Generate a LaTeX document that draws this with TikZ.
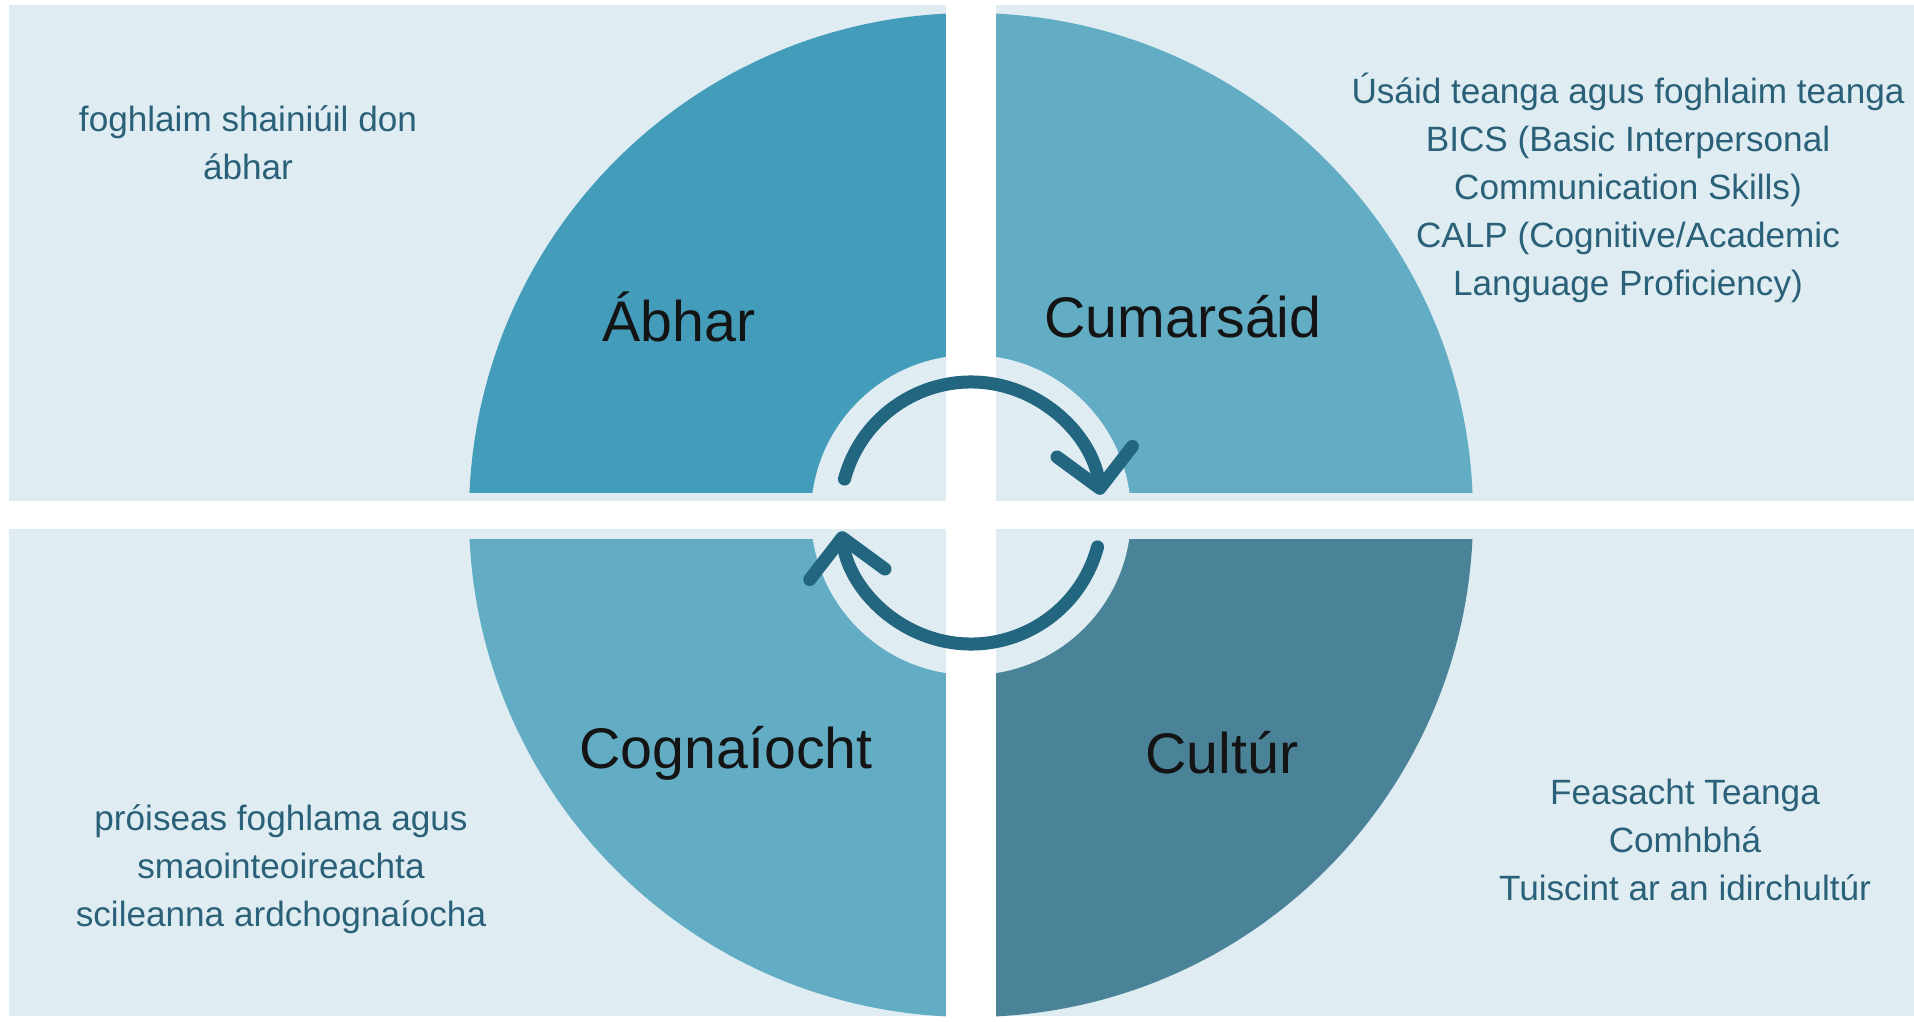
\documentclass[tikz,border=0pt]{standalone}
\usepackage{fontspec}
\setmainfont{Liberation Sans}
\usetikzlibrary{arrows.meta}
\definecolor{panelblue}{HTML}{DFEDF3}
\definecolor{abharblue}{HTML}{439CB9}
\definecolor{midblue}{HTML}{62ADC4}
\definecolor{cultblue}{HTML}{4A8398}
\definecolor{cycleblue}{HTML}{23667F}
\definecolor{noteblue}{HTML}{2B6178}

\begin{document}
\begin{tikzpicture}[
    panel/.style={fill=panelblue},
    bigtext/.style={font=\fontsize{16.3}{19}\selectfont, text=black!92},
    notetext/.style={font=\fontsize{10}{13.7}\selectfont, text=noteblue, align=center},
    cyclearrow/.style={line width=0.13cm, draw=cycleblue, line cap=round,
        -{Straight Barb[length=0.37cm, width=0.76cm, line cap=round, line join=round]}}
  ]
                \useasboundingbox (0,0) rectangle (19.140000,10.210000);
                \fill [white] (0,0) rectangle (19.140000,10.210000);%

                % Drawing the four panels
                \fill [panel] (0.090000,5.200000) rectangle (9.460000,10.160000);%
                \fill [panel] (9.960000,5.200000) rectangle (19.140000,10.160000);%
                \fill [panel] (0.090000,0.050000) rectangle (9.460000,4.920000);%
                \fill [panel] (9.960000,0.050000) rectangle (19.140000,4.920000);%

                % Drawing quarter Abhar
                \begin{scope}
                  \clip (0,5.290000) rectangle (9.470000,10.210000);
                  \fill [abharblue] (9.710000,5.060000) circle (5.020000);%
                \end{scope}

                % Drawing quarter Cumarsaid
                \begin{scope}
                  \clip (9.950000,5.290000) rectangle (19.140000,10.210000);
                  \fill [midblue] (9.710000,5.060000) circle (5.020000);%
                \end{scope}

                % Drawing quarter Cognaiocht
                \begin{scope}
                  \clip (0,0) rectangle (9.470000,4.820000);
                  \fill [midblue] (9.710000,5.060000) circle (5.020000);%
                \end{scope}

                % Drawing quarter Cultur
                \begin{scope}
                  \clip (9.950000,0) rectangle (19.140000,4.820000);
                  \fill [cultblue] (9.710000,5.060000) circle (5.020000);%
                \end{scope}

                % Drawing the inner disc
                \fill [panel] (9.710000,5.060000) circle (1.600000);%

                % Drawing the white cross
                \fill [white] (0,4.920000) rectangle (19.140000,5.200000);%
                \fill [white] (9.460000,0) rectangle (9.960000,10.210000);%

                % Drawing the cycle arrows
                \coordinate (hub) at (9.710000,5.080000);
                \draw [cyclearrow] (hub) ++(165:1.310000) arc [start angle=165, end angle=8, radius=1.310000];%
                \draw [cyclearrow] (hub) ++(-15:1.310000) arc [start angle=-15, end angle=-172, radius=1.310000];%

                % Marking the quarter titles
                \draw (6.790000,7.040000) node (abhar) [bigtext] {Ábhar};%
                \draw (11.830000,7.040000) node (cumarsaid) [bigtext] {Cumarsáid};%
                \draw (7.260000,2.680000) node (cognaiocht) [bigtext] {Cognaíocht};%
                \draw (12.220000,2.680000) node (cultur) [bigtext] {Cultúr};%

                % Marking the notes
                \draw (2.480000,8.780000) node (abharnote) [notetext] {foghlaim shainiúil don\\ábhar};%
                \draw (16.280000,8.330000) node (cumarsaidnote) [notetext] {Úsáid teanga agus foghlaim teanga\\BICS (Basic Interpersonal\\Communication Skills)\\CALP (Cognitive/Academic\\Language Proficiency)};%
                \draw (2.810000,1.520000) node (cognaiochtnote) [notetext] {próiseas foghlama agus\\smaointeoireachta\\scileanna ardchognaíocha};%
                \draw (16.850000,1.810000) node (culturnote) [notetext] {Feasacht Teanga\\Comhbhá\\Tuiscint ar an idirchultúr};%
\end{tikzpicture}
\end{document}
